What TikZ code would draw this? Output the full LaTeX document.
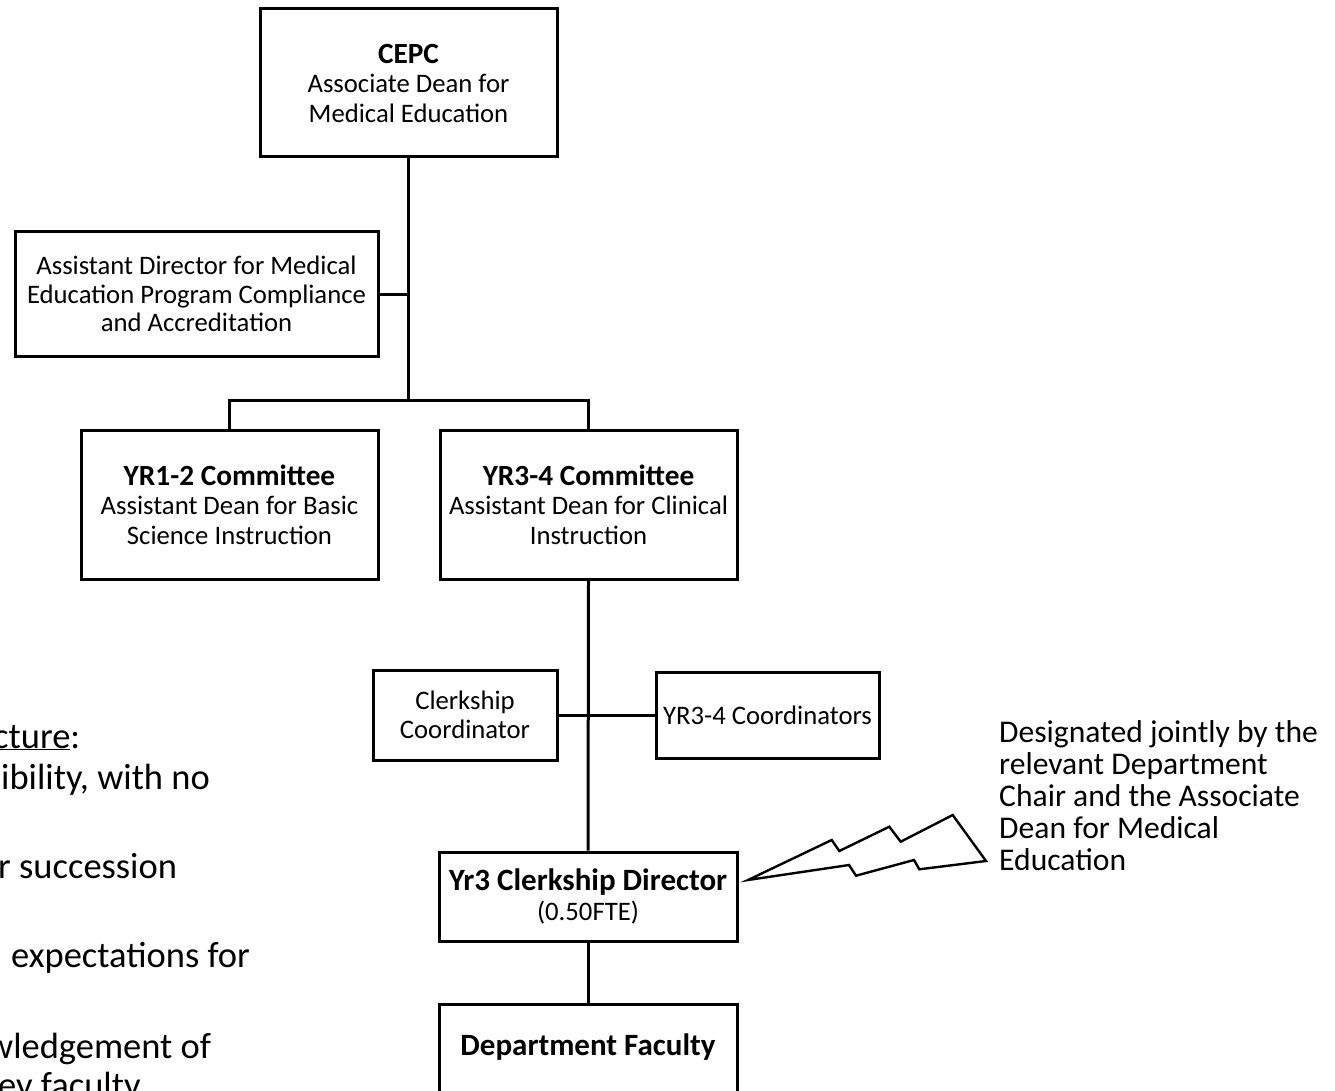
\documentclass[tikz,border=0pt]{standalone}
\usepackage{fontspec}
\setmainfont{Carlito}
\newcommand{\regf}{\fontsize{26.7}{29.5}\selectfont}
\newcommand{\titf}{\fontsize{29.3}{29.5}\selectfont\bfseries}
\newcommand{\bigtitf}{\fontsize{31}{31}\selectfont\bfseries}
\newcommand{\leftf}{\fontsize{36.5}{44}\selectfont}
\newcommand{\notef}{\fontsize{31.6}{32}\selectfont}
\begin{document}
\begin{tikzpicture}[x=1pt,y=-1pt,
  box/.style={draw, line width=3pt, inner sep=0pt, align=center, font=\regf},
  conn/.style={line width=3pt},
  lefttext/.style={anchor=base west, inner sep=0pt, font=\leftf},
  bolt/.style={draw, line width=2.4pt, line join=miter, fill=white}]
\useasboundingbox (0,0) rectangle (1335,1091);
\clip (0,0) rectangle (1335,1091);
\fill[white] (0,0) rectangle (1335,1091);

% boxes
\node[box, minimum width=297pt, minimum height=148pt] (cepc) at (408.5,83)
  {{\titf CEPC}\\Associate Dean for\\Medical Education};
\node[box, minimum width=363pt, minimum height=124pt, font=\fontsize{26.7}{28.5}\selectfont] (asst) at (196.5,294)
  {Assistant Director for Medical\\Education Program Compliance\\and Accreditation};
\node[box, minimum width=297pt, minimum height=149pt] (yr12) at (229.5,504.5)
  {{\titf YR1-2 Committee}\\Assistant Dean for Basic\\Science Instruction};
\node[box, minimum width=297pt, minimum height=149pt] (yr34) at (588.5,504.5)
  {{\titf YR3-4 Committee}\\Assistant Dean for Clinical\\Instruction};
\node[box, minimum width=184pt, minimum height=90pt, font=\fontsize{26.7}{29}\selectfont] (clc) at (465,715)
  {Clerkship\\Coordinator};
\node[box, minimum width=223pt, minimum height=86pt] (yrc) at (767.5,715)
  {YR3-4 Coordinators};
\node[box, minimum width=298pt, minimum height=89pt, font=\fontsize{26.7}{30}\selectfont] (dir) at (588,896.5)
  {{\bigtitf Yr3 Clerkship Director}\\(0.50FTE)};
\node[box, minimum width=298pt, minimum height=150pt, anchor=north] (dept) at (588,1003) {};
\node[anchor=base, inner sep=0pt, font=\bigtitf] (deptlbl) at (588,1055) {Department Faculty};

% connectors
\coordinate (bar) at (409,400);
\draw[conn] (cepc.south) -- (cepc.south |- bar);
\draw[conn] (asst.east) -- (asst.east -| cepc.south);
\draw[conn] (yr12.north) |- (bar) -| (yr34.north);
\draw[conn] (yr34.south) -- (dir.north);
\draw[conn] (clc.east) -- (yrc.west);
\draw[conn] (dir.south) -- (dept.north);

% lightning callout
\draw[bolt] (748,880) -- (831.7,840) -- (839.3,851) -- (889.3,826.7) -- (900.7,841.7)
  -- (952.7,815) -- (986,861) -- (919.3,869.3) -- (914,860) -- (856,875.7)
  -- (849,865) -- cycle;

% annotation
\node[anchor=base west, inner sep=0pt, font=\notef] (note) at (999,742)
  {\begin{tabular}[t]{@{}l@{}}Designated jointly by the\\relevant Department\\Chair and the Associate\\Dean for Medical\\Education\end{tabular}};

% left text, cut by the page edge
\node[lefttext] (l1) at (-7,748) {\underline{cture}:};
\node[lefttext] (l2) at (1,789) {ibility, with no};
\node[lefttext] (l3) at (-2,878) {r succession};
\node[lefttext] (l4) at (11,967) {expectations for};
\node[lefttext] (l5) at (-13,1058) {wledgement of};
\node[lefttext] (l6) at (-2,1097) {ey faculty};
\end{tikzpicture}
\end{document}
